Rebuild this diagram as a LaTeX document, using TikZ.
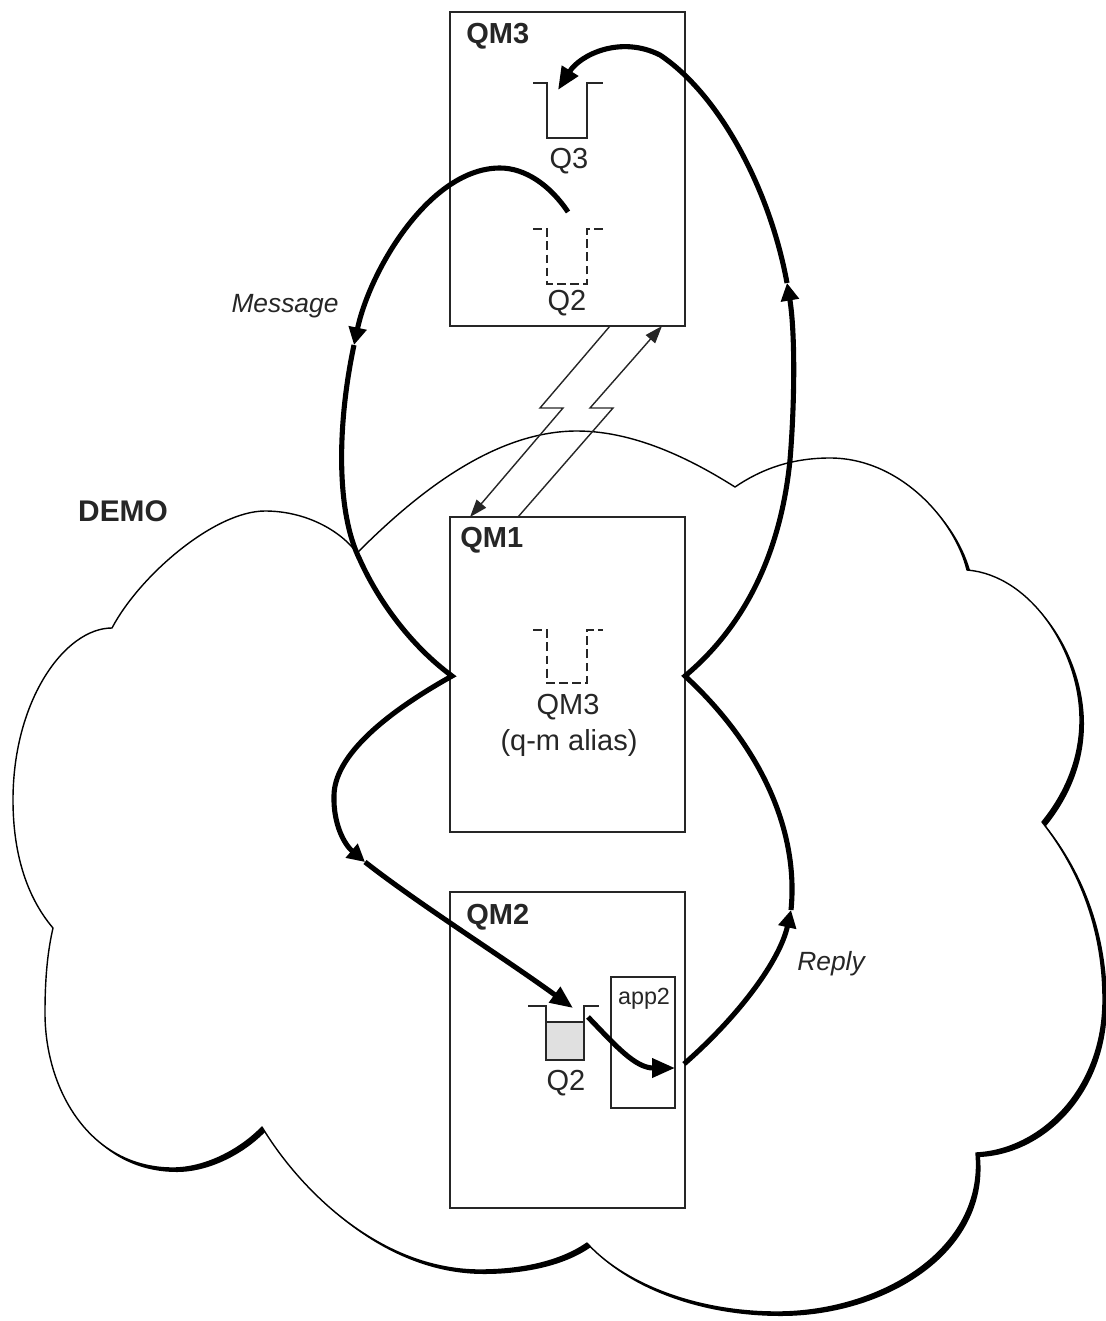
\documentclass[tikz,border=0pt]{standalone}
\usepackage{fontspec}
\setmainfont{Liberation Sans}
\usetikzlibrary{arrows.meta}
\newcommand{\cloudshape}[1]{%
\path[#1] (112,628) .. controls (140,575) and (215,511) .. (265,511) .. controls (305,511) and (340,530) .. (357,553)
 .. controls (410,500) and (490,431) .. (577,431) .. controls (640,431) and (700,465) .. (735,487)
 .. controls (760,470) and (790,458) .. (830,458) .. controls (900,458) and (955,520) .. (967,570)
 .. controls (1030,575) and (1080,650) .. (1080,720) .. controls (1080,765) and (1060,800) .. (1042,822)
 .. controls (1080,870) and (1103,930) .. (1103,1000) .. controls (1103,1090) and (1040,1150) .. (976,1153)
 .. controls (985,1250) and (880,1312) .. (777,1312) .. controls (690,1312) and (620,1280) .. (587,1243)
 .. controls (560,1262) and (520,1270) .. (480,1270) .. controls (380,1270) and (300,1190) .. (262,1127)
 .. controls (240,1150) and (205,1168) .. (173,1168) .. controls (90,1168) and (45,1090) .. (45,1013)
 .. controls (45,975) and (48,950) .. (53,928)
 .. controls (25,895) and (13,850) .. (13,800) .. controls (13,700) and (65,628) .. (112,628)
 -- cycle;}
\begin{document}
\begin{tikzpicture}[x=0.02cm,y=-0.02cm,
  thinline/.style={line width=0.8pt, draw=black!85},
  qmbox/.style={draw=black!85, line width=0.9pt, fill=white, minimum width=4.7cm, inner sep=0pt, outer sep=0pt},
  flow/.style={line width=2.9pt, line join=miter, line cap=butt},
  midtip/.style={-{Triangle[length=10pt,width=10pt]}},
  endtip/.style={-{Triangle[length=13pt,width=10.5pt]}},
  bolbl/.style={font=\fontsize{16.5}{19}\selectfont\bfseries, text=black!85, inner sep=0pt},
  qlbl/.style={font=\fontsize{16.5}{19}\selectfont, text=black!85, inner sep=0pt},
  itlbl/.style={font=\fontsize{15}{18}\selectfont\itshape, text=black!85, inner sep=0pt},
  dashq/.style={thinline, dash pattern=on 5pt off 2.5pt}]
\useasboundingbox (0,0) rectangle (1105,1321);

% cloud with shadow
\cloudshape{fill=black, shift={(4,4)}}
\cloudshape{fill=white, draw=black, line width=0.8pt, line join=round}

% boxes
\node[qmbox, minimum height=6.28cm] (qm3) at (567.5,169) {};
\node[qmbox, minimum height=6.30cm] (qm1) at (567.5,674.5) {};
\node[qmbox, minimum height=6.32cm] (qm2) at (567.5,1050) {};
\node[draw=black!85, line width=0.9pt, minimum width=1.28cm, minimum height=2.62cm, inner sep=0pt, outer sep=0pt] (app) at (643,1042.5) {};

% labels
\node[bolbl, anchor=west] (t3) at (466,36) {QM3};
\node[bolbl, anchor=west] (t1) at (460,540) {QM1};
\node[bolbl, anchor=west] (t2) at (466,917) {QM2};
\node[font=\fontsize{17}{20}\selectfont\bfseries, text=black!85, inner sep=0pt] (demo) at (123,511) {DEMO};
\node[font=\fontsize{13.3}{16}\selectfont, text=black!85, inner sep=0pt] (applbl) at (644,999) {app2};
\node[qlbl] (lq3) at (569,161) {Q3};
\node[qlbl] (lq2a) at (567,303) {Q2};
\node[qlbl] (lal1) at (568,707) {QM3};
\node[qlbl] (lal2) at (569,743) {(q-m alias)};
\node[qlbl] (lq2b) at (566,1083) {Q2};
\node[itlbl] (msg) at (285,306) {Message};
\node[itlbl] (rep) at (831,964) {Reply};

% queues
\draw[thinline] (533,83) -- (547,83) -- (547,138) -- (587,138) -- (587,83) -- (603,83);
\draw[dashq] (533,229) -- (547,229) -- (547,284) -- (587,284) -- (587,229) -- (603,229);
\draw[dashq] (533,630) -- (547,630) -- (547,683) -- (587,683) -- (587,630) -- (603,630);
\draw[thinline, fill=black!12] (546,1022) rectangle (584,1060);
\draw[thinline] (528,1006) -- (546,1006) -- (546,1060) -- (584,1060) -- (584,1006) -- (599,1006);

% lightning channels
\coordinate (l1s) at (610,326);
\coordinate (l1e) at (470,517);
\coordinate (l2s) at (518,517);
\coordinate (l2e) at (662,326);
\draw[thinline, -{Triangle[length=10pt,width=7pt]}] (l1s) -- (540,408) -- (563,408) -- (l1e);
\draw[thinline, -{Triangle[length=10pt,width=7pt]}] (l2s) -- (613,408) -- (590,408) -- (l2e);

% flow coordinates
\coordinate (m0) at (568,212);
\coordinate (m1) at (354,345);
\coordinate (vL) at (452,676);
\coordinate (m2) at (365,862);
\coordinate (q2in) at (573,1008);
\coordinate (q2out) at (588,1017);
\coordinate (appin) at (675,1068);
\coordinate (r0) at (684,1064);
\coordinate (r1) at (791,910);
\coordinate (vR) at (685,676);
\coordinate (r2) at (787,283);
\coordinate (q3in) at (558,90);

% message path
\draw[flow, midtip] (m0) .. controls (550,185) and (525,168) .. (500,168) .. controls (430,168) and (370,270) .. (m1);
\draw[flow, midtip] (m1) .. controls (338,420) and (335,510) .. (360,560) .. controls (378,600) and (410,645) .. (vL)
  .. controls (400,705) and (335,750) .. (334,795) .. controls (333,825) and (345,845) .. (m2);
\draw[flow, endtip] (m2) .. controls (420,905) and (500,955) .. (q2in);
\draw[flow, endtip] (q2out) .. controls (615,1045) and (635,1068) .. (appin);

% reply path
\draw[flow, midtip] (r0) .. controls (740,1015) and (780,960) .. (r1);
\draw[flow, midtip] (r1) .. controls (799,830) and (760,745) .. (vR)
  .. controls (740,630) and (780,560) .. (790,460) .. controls (795,400) and (795,330) .. (r2);
\draw[flow, endtip] (r2) .. controls (770,190) and (720,95) .. (660,55) .. controls (620,35) and (580,55) .. (q3in);
\end{tikzpicture}
\end{document}
